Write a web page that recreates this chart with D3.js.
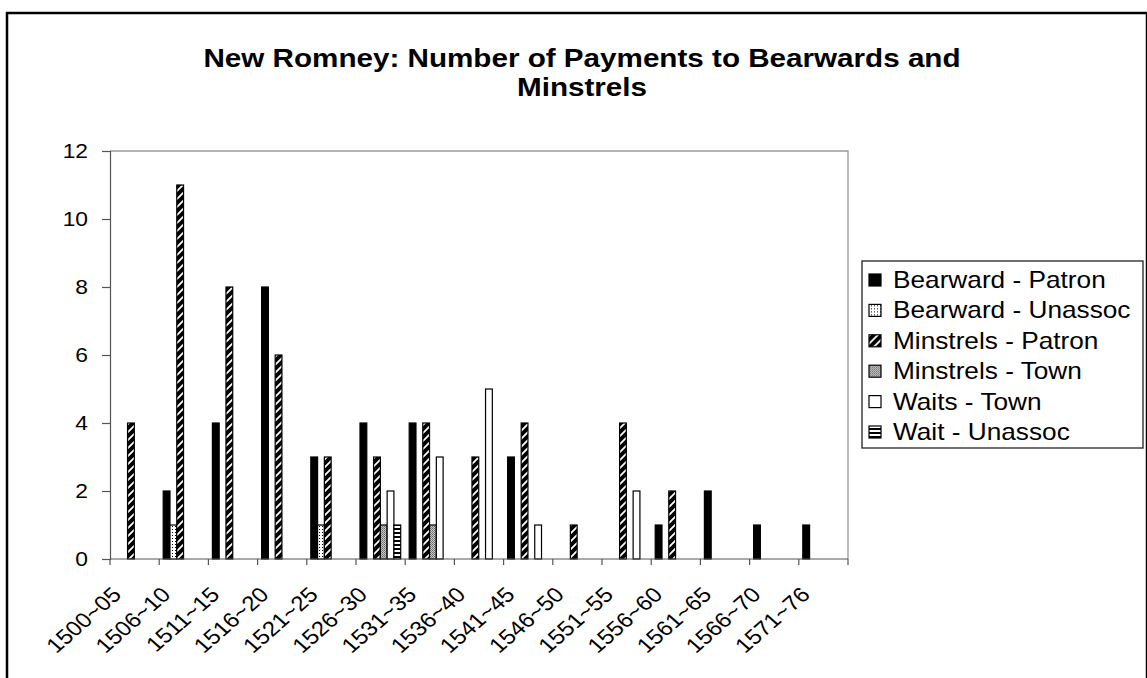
<!DOCTYPE html>
<html>
<head>
<meta charset="utf-8">
<script src="https://cdn.jsdelivr.net/npm/d3@7"></script>
<style>
  html, body { margin: 0; padding: 0; background: #fff; }
  svg { display: block; }
  text { font-family: "Liberation Sans", Arial, Helvetica, sans-serif; fill: #000; }
</style>
</head>
<body>
<svg id="chart" width="1147" height="678"></svg>
<script>
// Five-year periods
const categories = ["1500~05", "1506~10", "1511~15", "1516~20", "1521~25", "1526~30", "1531~35",
  "1536~40", "1541~45", "1546~50", "1551~55", "1556~60", "1561~65", "1566~70", "1571~76"];

// Number of payments per period, one array per series
const bearwardPatron  = [0, 2, 4, 8, 3, 4, 4, 0, 3, 0, 0, 1, 2, 1, 1];
const bearwardUnassoc = [0, 1, 0, 0, 1, 0, 0, 0, 0, 0, 0, 0, 0, 0, 0];
const minstrelsPatron = [4, 11, 8, 6, 3, 3, 4, 3, 4, 1, 4, 2, 0, 0, 0];
const minstrelsTown   = [0, 0, 0, 0, 0, 1, 1, 0, 0, 0, 0, 0, 0, 0, 0];
const waitsTown       = [0, 0, 0, 0, 0, 2, 3, 5, 1, 0, 2, 0, 0, 0, 0];
const waitUnassoc     = [0, 0, 0, 0, 0, 1, 0, 0, 0, 0, 0, 0, 0, 0, 0];

const seriesNames = ["Bearward - Patron", "Bearward - Unassoc", "Minstrels - Patron",
  "Minstrels - Town", "Waits - Town", "Wait - Unassoc"];
const seriesValues = [bearwardPatron, bearwardUnassoc, minstrelsPatron, minstrelsTown, waitsTown, waitUnassoc];
const yTicks = [0, 2, 4, 6, 8, 10, 12];
const titleLines = ["New Romney: Number of Payments to Bearwards and", "Minstrels"];

const svg = d3.select("#chart");
const SX = 1.14; // horizontal text stretch of the printed chart

// ---- fill patterns ----
const defs = svg.append("defs");
// wide diagonal: black with white slashes
const pDiag = defs.append("pattern").attr("id", "pDiag").attr("patternUnits", "userSpaceOnUse")
  .attr("width", 8).attr("height", 8);
pDiag.append("rect").attr("width", 8).attr("height", 8).attr("fill", "#000");
pDiag.append("path").attr("d", "M-2,2 L2,-2 M0,8 L8,0 M6,10 L10,6")
  .attr("stroke", "#fff").attr("stroke-width", 1.8);
// sparse dots
const pDots = defs.append("pattern").attr("id", "pDots").attr("patternUnits", "userSpaceOnUse")
  .attr("width", 3).attr("height", 3);
pDots.append("rect").attr("width", 3).attr("height", 3).attr("fill", "#fff");
pDots.append("rect").attr("x", 1).attr("y", 1).attr("width", 1).attr("height", 1).attr("fill", "#000");
// gray stipple
const pGray = defs.append("pattern").attr("id", "pGray").attr("patternUnits", "userSpaceOnUse")
  .attr("width", 2).attr("height", 2);
pGray.append("rect").attr("width", 2).attr("height", 2).attr("fill", "#c8c8c8");
pGray.append("rect").attr("width", 1).attr("height", 1).attr("fill", "#666");
pGray.append("rect").attr("x", 1).attr("y", 1).attr("width", 1).attr("height", 1).attr("fill", "#888");
// horizontal stripes
const pHoriz = defs.append("pattern").attr("id", "pHoriz").attr("patternUnits", "userSpaceOnUse")
  .attr("width", 4).attr("height", 4);
pHoriz.append("rect").attr("width", 4).attr("height", 4).attr("fill", "#fff");
pHoriz.append("rect").attr("y", 0).attr("width", 4).attr("height", 2).attr("fill", "#000");

const fills = ["#000", "url(#pDots)", "url(#pDiag)", "url(#pGray)", "#fff", "url(#pHoriz)"];

// ---- outer frame ----
svg.append("rect").attr("x", 7).attr("y", 13).attr("width", 1140).attr("height", 668)
  .attr("fill", "none").attr("stroke", "#000").attr("stroke-width", 2.5);

// ---- title ----
svg.selectAll("text.title").data(titleLines).join("text")
  .attr("class", "title")
  .attr("transform", (d, i) => `translate(582,${67 + i * 29}) scale(${SX},1)`)
  .attr("text-anchor", "middle")
  .style("font-size", "26px").style("font-weight", "bold")
  .text(d => d);

// ---- scales ----
const plot = { left: 110, right: 848, top: 151, bottom: 559 };
const x = d3.scaleBand().domain(categories).range([plot.left, plot.right]).padding(0);
const x1 = d3.scaleBand().domain(d3.range(seriesNames.length))
  .range([4, x.bandwidth() - 4.5]).padding(0);
const y = d3.scaleLinear().domain([0, 12]).range([plot.bottom, plot.top]);

// plot area border (top and right)
svg.append("path")
  .attr("d", `M${plot.left},${plot.top}H${plot.right}V${plot.bottom}`)
  .attr("fill", "none").attr("stroke", "#9a9a9a").attr("stroke-width", 1.3);

// ---- bars ----
const barData = [];
categories.forEach((c, ci) => {
  seriesValues.forEach((vals, si) => {
    if (vals[ci] > 0) barData.push({ cat: c, s: si, v: vals[ci] });
  });
});
svg.append("g").selectAll("rect").data(barData).join("rect")
  .attr("x", d => x(d.cat) + x1(d.s))
  .attr("y", d => y(d.v))
  .attr("width", x1.bandwidth())
  .attr("height", d => y(0) - y(d.v))
  .attr("fill", d => fills[d.s])
  .attr("stroke", "#000").attr("stroke-width", 1.2);

// ---- y axis ----
const yAxis = svg.append("g").attr("transform", `translate(${plot.left},0)`)
  .call(d3.axisLeft(y).tickValues(yTicks).tickSize(8).tickFormat(""));
yAxis.select(".domain").attr("stroke", "#555").attr("stroke-width", 1.2);
yAxis.selectAll(".tick line").attr("stroke", "#555").attr("stroke-width", 1.2);
svg.selectAll("text.ylab").data(yTicks).join("text")
  .attr("class", "ylab")
  .attr("transform", d => `translate(88,${y(d) + 7}) scale(${SX},1)`)
  .attr("text-anchor", "end")
  .style("font-size", "20px")
  .text(d => d);

// ---- x axis ----
svg.append("line").attr("x1", plot.left).attr("x2", plot.right)
  .attr("y1", plot.bottom).attr("y2", plot.bottom)
  .attr("stroke", "#555").attr("stroke-width", 1.2);
const boundaries = categories.map(c => x(c)).concat([plot.right]);
svg.append("g").selectAll("line").data(boundaries).join("line")
  .attr("x1", d => d).attr("x2", d => d)
  .attr("y1", plot.bottom).attr("y2", plot.bottom + 6)
  .attr("stroke", "#555").attr("stroke-width", 1.2);
svg.selectAll("text.xlab").data(categories).join("text")
  .attr("class", "xlab")
  .attr("transform", d => `translate(${x(d) + x.bandwidth() / 2 - 12},596) scale(${SX},1) rotate(-45)`)
  .attr("text-anchor", "end")
  .style("font-size", "21px")
  .text(d => d);

// ---- legend ----
const lg = svg.append("g");
lg.append("rect").attr("x", 862).attr("y", 261).attr("width", 281).attr("height", 187)
  .attr("fill", "#fff").attr("stroke", "#222").attr("stroke-width", 1.3);
const items = lg.selectAll("g.item").data(seriesNames).join("g")
  .attr("class", "item")
  .attr("transform", (d, i) => `translate(0,${280 + i * 30.4})`);
items.append("rect").attr("x", 869).attr("y", -6).attr("width", 12).attr("height", 12)
  .attr("fill", (d, i) => fills[i]).attr("stroke", "#000").attr("stroke-width", 1.2);
items.append("text")
  .attr("transform", `translate(893,8) scale(${SX},1)`)
  .style("font-size", "23px")
  .text(d => d);
</script>
</body>
</html>
